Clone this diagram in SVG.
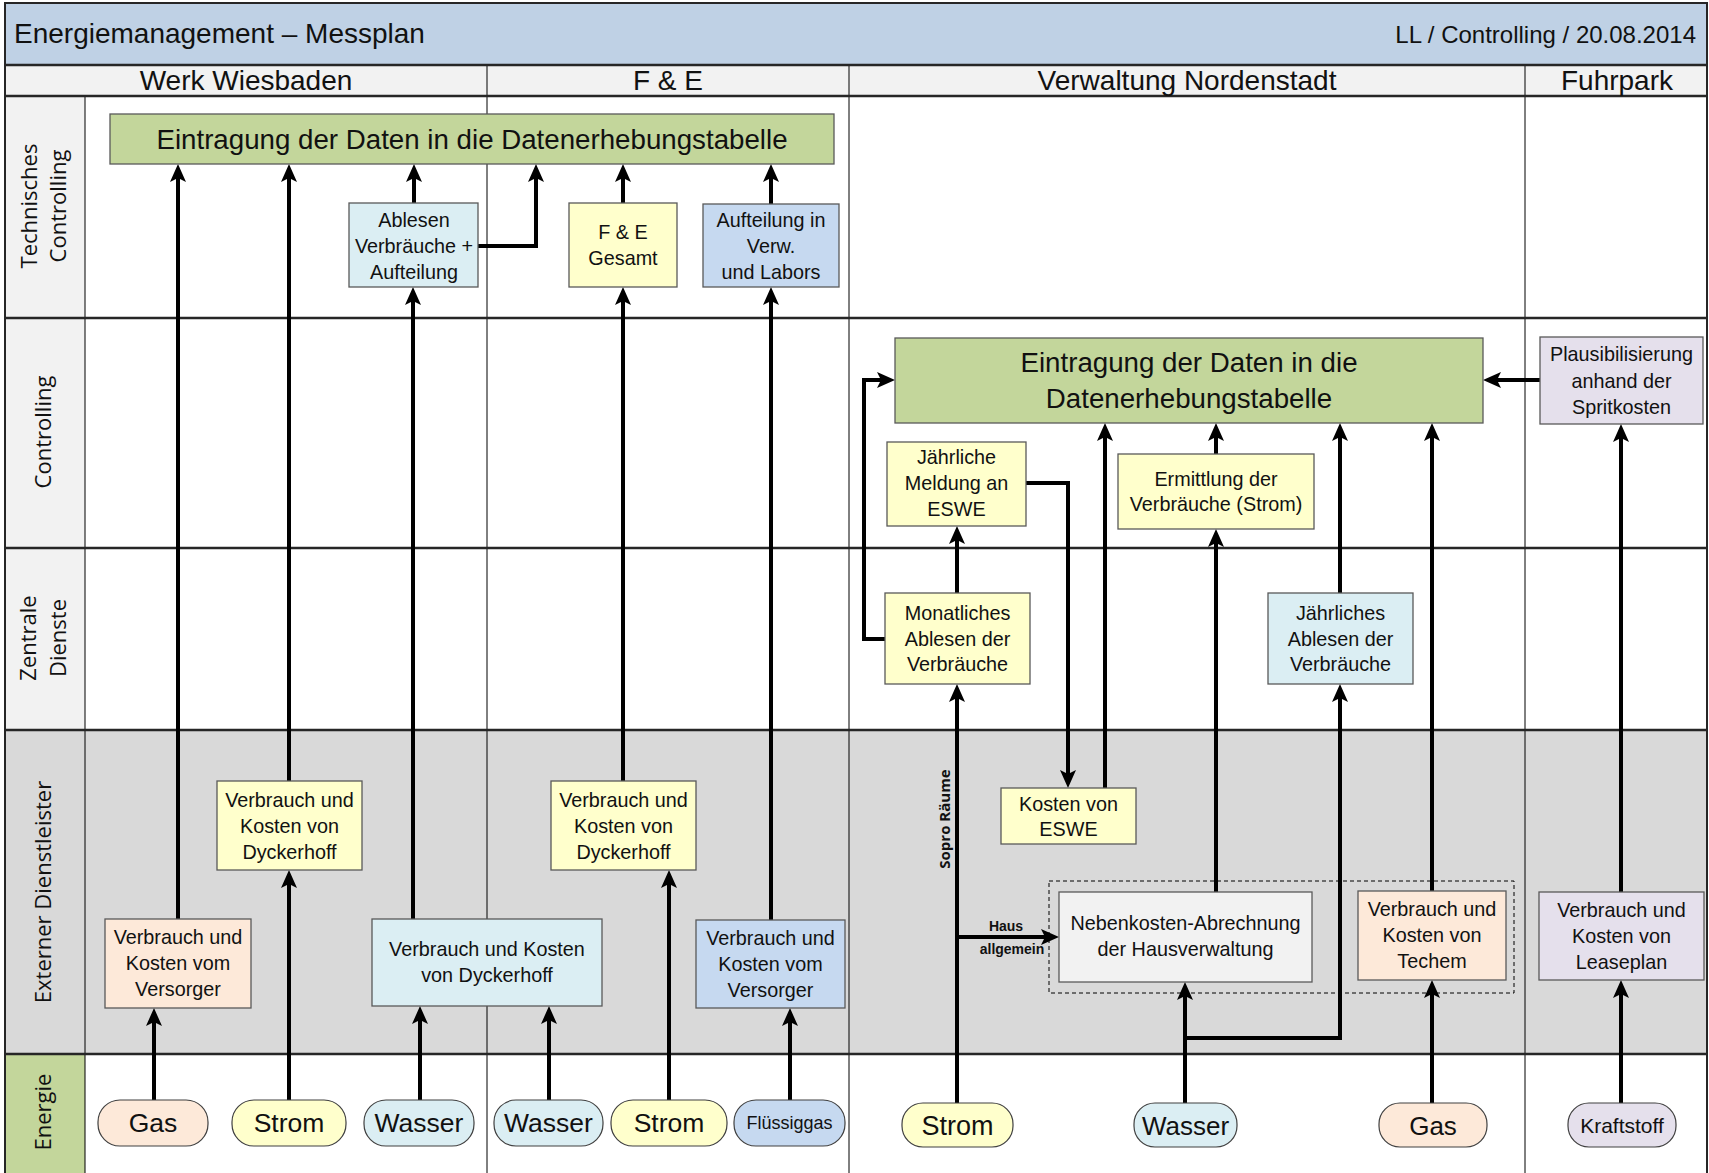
<svg xmlns="http://www.w3.org/2000/svg" width="1709" height="1173" viewBox="0 0 1709 1173">
<defs>
<marker id="ah" viewBox="0 0 18 16" refX="4" refY="8" markerWidth="18" markerHeight="16" markerUnits="userSpaceOnUse" orient="auto"><path d="M0,0 L18,8 L0,16 L4,8 z" fill="#000"/></marker>
<style>
.t{font-family:"Liberation Sans",Arial,sans-serif;fill:#111;text-anchor:middle}
.n{font-size:19.8px}
.big{font-size:27.7px}
.pill{font-size:26.5px}
.hdr{font-size:28px}
.lane{font-family:"Open Sans","DejaVu Sans",sans-serif;font-size:22px;fill:#111;text-anchor:middle}
.box{stroke:#595959;stroke-width:1.3}
.pl{stroke:#404040;stroke-width:1.2}
.yel{fill:#FFFFCC}.pea{fill:#FDE9D9}.lb{fill:#DBEEF3}.bl{fill:#C6D9F0}.lav{fill:#E5E0EC}.gr{fill:#C3D69B}.gy{fill:#F2F2F2}
.hl{stroke:#262626;stroke-width:2.5}
.vl{stroke:#000;stroke-width:1}
.conn path{fill:none;stroke:#000;stroke-width:4;marker-end:url(#ah)}
</style>
</defs>
<rect x="0" y="0" width="1709" height="1173" fill="#fff"/>
<g id="frame">
<rect x="5" y="3" width="1702" height="62" fill="#BFD1E5"/>
<rect x="5" y="65" width="1702" height="31" fill="#F2F2F2"/>
<rect x="5" y="96" width="80" height="634" fill="#F2F2F2"/>
<rect x="5" y="730" width="1702" height="324" fill="#D9D9D9"/>
<rect x="5" y="1054" width="80" height="119" fill="#C3D69B"/>
<line class="vl" x1="85" y1="96" x2="85" y2="1173"/>
<line class="vl" x1="487" y1="65" x2="487" y2="1173"/>
<line class="vl" x1="849" y1="65" x2="849" y2="1173"/>
<line class="vl" x1="1525" y1="65" x2="1525" y2="1173"/>
<line class="hl" x1="5" y1="65" x2="1707" y2="65"/>
<line class="hl" x1="5" y1="96" x2="1707" y2="96"/>
<line class="hl" x1="5" y1="318" x2="1707" y2="318"/>
<line class="hl" x1="5" y1="548" x2="1707" y2="548"/>
<line class="hl" x1="5" y1="730" x2="1707" y2="730"/>
<line class="hl" x1="5" y1="1054" x2="1707" y2="1054"/>
<rect x="5" y="3" width="1702" height="1172" fill="none" stroke="#262626" stroke-width="2"/>
<text class="t" x="14" y="43" style="font-size:28px;text-anchor:start">Energiemanagement – Messplan</text>
<text class="t" x="1696" y="43" style="font-size:24px;text-anchor:end">LL / Controlling / 20.08.2014</text>
<text class="t hdr" x="246" y="90">Werk Wiesbaden</text>
<text class="t hdr" x="668" y="90">F &amp; E</text>
<text class="t hdr" x="1187" y="90">Verwaltung Nordenstadt</text>
<text class="t hdr" x="1617" y="90">Fuhrpark</text>
<text class="lane" transform="translate(37,206) rotate(-90)">Technisches</text>
<text class="lane" transform="translate(66,206) rotate(-90)">Controlling</text>
<text class="lane" transform="translate(51,432) rotate(-90)">Controlling</text>
<text class="lane" transform="translate(36,638) rotate(-90)">Zentrale</text>
<text class="lane" transform="translate(66,638) rotate(-90)">Dienste</text>
<text class="lane" transform="translate(51,892) rotate(-90)">Externer Dienstleister</text>
<text class="lane" transform="translate(51,1112) rotate(-90)">Energie</text>
</g>
<rect x="1049" y="881" width="465" height="112" fill="none" stroke="#000" stroke-width="1" stroke-dasharray="4,3"/>
<g id="connectors" class="conn">
<path d="M154,1100 V1022"/>
<path d="M178,919 V178"/>
<path d="M289,1100 V884"/>
<path d="M289,781 V178"/>
<path d="M420,1100 V1020"/>
<path d="M413,919 V301"/>
<path d="M414,203 V178"/>
<path d="M478,246 H536 V178"/>
<path d="M549,1100 V1020"/>
<path d="M669,1100 V884"/>
<path d="M623,781 V301"/>
<path d="M623,203 V178"/>
<path d="M790,1100 V1022"/>
<path d="M771,920 V301"/>
<path d="M771,204 V178"/>
<path d="M957,1103 V698"/>
<path d="M957,937 H1045"/>
<path d="M957,593 V540"/>
<path d="M885,639 H864 V380 H881"/>
<path d="M1026,483 H1068 V774"/>
<path d="M1105,788 V437"/>
<path d="M1216,454 V437"/>
<path d="M1216,892 V543"/>
<path d="M1185,1103 V996"/>
<path d="M1185,1038 H1340 V698"/>
<path d="M1340,593 V437"/>
<path d="M1432,1103 V994"/>
<path d="M1432,891 V437"/>
<path d="M1621,1103 V994"/>
<path d="M1621,892 V438"/>
<path d="M1540,380 H1497"/>
<text class="t" transform="translate(950,819) rotate(-90)" style="font-family:'Open Sans','DejaVu Sans',sans-serif;font-size:15px;font-weight:bold">Sopro Räume</text>
<text class="t" x="1006" y="931" style="font-size:14px;font-weight:bold">Haus</text>
<text class="t" x="1012" y="954" style="font-size:14px;font-weight:bold">allgemein</text>
</g>
<g id="tc-eintragung"><rect class="box gr" x="110" y="114" width="724" height="50"/><text class="t big" x="472" y="149">Eintragung der Daten in die Datenerhebungstabelle</text></g>
<g id="ablesen-aufteilung"><rect class="box lb" x="349" y="203" width="129" height="84"/><text class="t n" x="414" y="227">Ablesen</text><text class="t n" x="414" y="253">Verbräuche +</text><text class="t n" x="414" y="279">Aufteilung</text></g>
<g id="fe-gesamt"><rect class="box yel" x="569" y="203" width="108" height="84"/><text class="t n" x="623" y="239">F &amp; E</text><text class="t n" x="623" y="265">Gesamt</text></g>
<g id="aufteilung-verw"><rect class="box bl" x="703" y="204" width="136" height="83"/><text class="t n" x="771" y="227">Aufteilung in</text><text class="t n" x="771" y="253">Verw.</text><text class="t n" x="771" y="279">und Labors</text></g>
<g id="werk-strom-dyckerhoff"><rect class="box yel" x="217" y="781" width="145" height="89"/><text class="t n" x="289.5" y="807">Verbrauch und</text><text class="t n" x="289.5" y="833">Kosten von</text><text class="t n" x="289.5" y="859">Dyckerhoff</text></g>
<g id="fe-strom-dyckerhoff"><rect class="box yel" x="551" y="781" width="145" height="89"/><text class="t n" x="623.5" y="807">Verbrauch und</text><text class="t n" x="623.5" y="833">Kosten von</text><text class="t n" x="623.5" y="859">Dyckerhoff</text></g>
<g id="werk-gas-versorger"><rect class="box pea" x="105" y="919" width="146" height="89"/><text class="t n" x="178" y="944">Verbrauch und</text><text class="t n" x="178" y="970">Kosten vom</text><text class="t n" x="178" y="996">Versorger</text></g>
<g id="wasser-dyckerhoff"><rect class="box lb" x="372" y="919" width="230" height="87"/><text class="t n" x="487" y="956">Verbrauch und Kosten</text><text class="t n" x="487" y="982">von Dyckerhoff</text></g>
<g id="fluessig-versorger"><rect class="box bl" x="696" y="920" width="149" height="88"/><text class="t n" x="770.5" y="945">Verbrauch und</text><text class="t n" x="770.5" y="971">Kosten vom</text><text class="t n" x="770.5" y="997">Versorger</text></g>
<g id="pill-gas-1"><rect class="pl pea" x="98" y="1100" width="110" height="46" rx="22"/><text class="t pill" x="153" y="1132">Gas</text></g>
<g id="pill-strom-1"><rect class="pl yel" x="232" y="1100" width="114" height="46" rx="22"/><text class="t pill" x="289" y="1132">Strom</text></g>
<g id="pill-wasser-1"><rect class="pl lb" x="364" y="1100" width="110" height="46" rx="22"/><text class="t pill" x="419" y="1132">Wasser</text></g>
<g id="pill-wasser-2"><rect class="pl lb" x="494" y="1100" width="109" height="46" rx="22"/><text class="t pill" x="548.5" y="1132">Wasser</text></g>
<g id="pill-strom-2"><rect class="pl yel" x="611" y="1100" width="116" height="46" rx="22"/><text class="t pill" x="669" y="1132">Strom</text></g>
<g id="pill-fluessiggas"><rect class="pl bl" x="734" y="1100" width="111" height="46" rx="22"/><text class="t" x="789.5" y="1129" style="font-size:18px">Flüssiggas</text></g>
<g id="vn-eintragung"><rect class="box gr" x="895" y="338" width="588" height="85"/><text class="t big" x="1189" y="372">Eintragung der Daten in die</text><text class="t big" x="1189" y="408">Datenerhebungstabelle</text></g>
<g id="plausibilisierung"><rect class="box lav" x="1540" y="337" width="163" height="87"/><text class="t n" x="1621.5" y="361">Plausibilisierung</text><text class="t n" x="1621.5" y="388">anhand der</text><text class="t n" x="1621.5" y="414">Spritkosten</text></g>
<g id="meldung-eswe"><rect class="box yel" x="887" y="442" width="139" height="84"/><text class="t n" x="956.5" y="464">Jährliche</text><text class="t n" x="956.5" y="490">Meldung an</text><text class="t n" x="956.5" y="516">ESWE</text></g>
<g id="ermittlung"><rect class="box yel" x="1118" y="454" width="196" height="75"/><text class="t n" x="1216" y="486">Ermittlung der</text><text class="t n" x="1216" y="511">Verbräuche (Strom)</text></g>
<g id="monatliches-ablesen"><rect class="box yel" x="885" y="593" width="145" height="91"/><text class="t n" x="957.5" y="620">Monatliches</text><text class="t n" x="957.5" y="646">Ablesen der</text><text class="t n" x="957.5" y="671">Verbräuche</text></g>
<g id="jaehrliches-ablesen"><rect class="box lb" x="1268" y="593" width="145" height="91"/><text class="t n" x="1340.5" y="620">Jährliches</text><text class="t n" x="1340.5" y="646">Ablesen der</text><text class="t n" x="1340.5" y="671">Verbräuche</text></g>
<g id="kosten-eswe"><rect class="box yel" x="1001" y="788" width="135" height="56"/><text class="t n" x="1068.5" y="811">Kosten von</text><text class="t n" x="1068.5" y="836">ESWE</text></g>
<g id="nebenkosten"><rect class="box gy" x="1059" y="892" width="253" height="90"/><text class="t n" x="1185.5" y="930">Nebenkosten-Abrechnung</text><text class="t n" x="1185.5" y="956">der Hausverwaltung</text></g>
<g id="techem"><rect class="box pea" x="1358" y="891" width="148" height="89"/><text class="t n" x="1432" y="916">Verbrauch und</text><text class="t n" x="1432" y="942">Kosten von</text><text class="t n" x="1432" y="968">Techem</text></g>
<g id="leaseplan"><rect class="box lav" x="1539" y="892" width="165" height="88"/><text class="t n" x="1621.5" y="917">Verbrauch und</text><text class="t n" x="1621.5" y="943">Kosten von</text><text class="t n" x="1621.5" y="969">Leaseplan</text></g>
<g id="pill-strom-3"><rect class="pl yel" x="902" y="1103" width="111" height="44" rx="21"/><text class="t" x="957.5" y="1135" style="font-size:27px">Strom</text></g>
<g id="pill-wasser-3"><rect class="pl lb" x="1134" y="1103" width="103" height="44" rx="21"/><text class="t" x="1185.5" y="1135" style="font-size:26px">Wasser</text></g>
<g id="pill-gas-3"><rect class="pl pea" x="1379" y="1103" width="108" height="44" rx="21"/><text class="t" x="1433" y="1135" style="font-size:26px">Gas</text></g>
<g id="pill-kraftstoff"><rect class="pl lav" x="1568" y="1103" width="108" height="44" rx="21"/><text class="t" x="1622" y="1133" style="font-size:21px">Kraftstoff</text></g>
</svg>
